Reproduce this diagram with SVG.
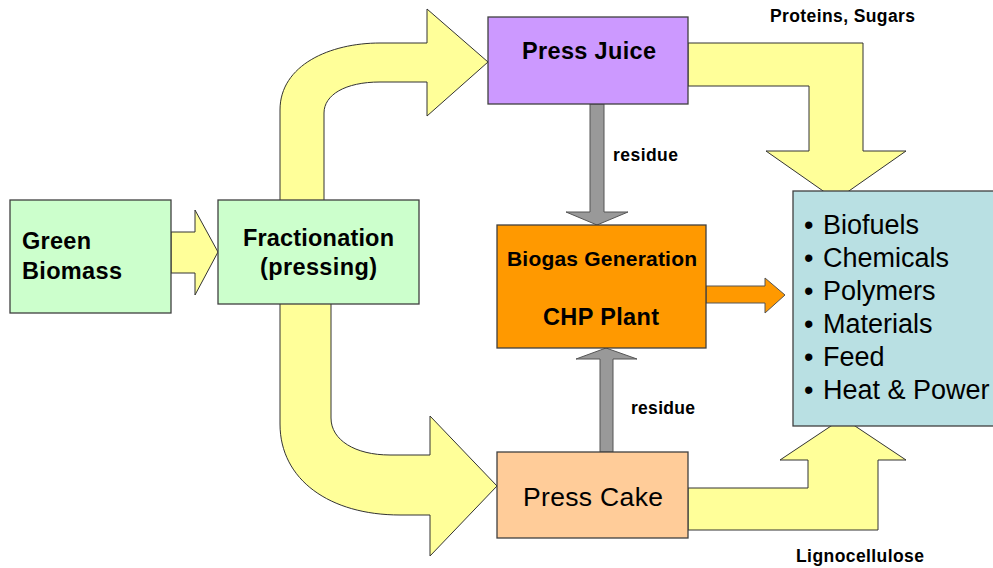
<svg xmlns="http://www.w3.org/2000/svg" width="993" height="568" viewBox="0 0 993 568">
  <style>
    .box { stroke: #404040; stroke-width: 1.3; }
    .flow { fill: #ffff99; stroke: #333333; stroke-width: 1; stroke-linejoin: miter; }
    .grey { fill: #999999; stroke: #555555; stroke-width: 1; }
    .orange { fill: #ff9900; stroke: #555555; stroke-width: 1; }
    .bold { font-family: "Liberation Sans", Arial, sans-serif; font-weight: bold; fill: #000000; }
    .reg { font-family: "Liberation Sans", Arial, sans-serif; fill: #000000; }
    .lbl { font-family: "Liberation Sans", Arial, sans-serif; font-weight: bold; font-size: 17.5px; fill: #000000; }
  </style>
  <rect width="993" height="568" fill="#ffffff"/>

  <g id="connectors">
    <!-- Green Biomass to Fractionation -->
    <path class="flow" d="M171,232 L195,232 L195,210 L218,252 L195,295 L195,273 L171,273 Z"/>
    <!-- Fractionation up to Press Juice -->
    <path class="flow" d="M280,201 L280,110 C280,65 330,43 380,43 L427,43 L427,9 L488,62 L427,116 L427,82 L380,82 C345,82 324,95 324,113 L324,201 Z"/>
    <!-- Fractionation down to Press Cake -->
    <path class="flow" d="M280,303 L280,424 C280,480 330,515 400,515 L430,515 L430,556 L497,486 L430,416 L430,455 L390,455 C355,455 331,440 331,418 L331,303 Z"/>
    <!-- Press Juice to products -->
    <path class="flow" d="M688,43 L863,43 L863,151 L906,151 L836,200 L766,151 L809,151 L809,86 L688,86 Z"/>
    <!-- Press Cake to products -->
    <path class="flow" d="M688,530 L878,530 L878,460 L906,460 L843,418 L780,460 L808,460 L808,488 L688,488 Z"/>
    <!-- residue arrows -->
    <path class="grey" d="M590,104 L604,104 L604,212 L628,212 L597,225 L566,212 L590,212 Z"/>
    <path class="grey" d="M600,452 L613,452 L613,359 L637,359 L606,348 L576,359 L600,359 Z"/>
    <!-- Biogas to products -->
    <path class="orange" d="M706,286 L765,286 L765,278 L785,295 L765,313 L765,303 L706,303 Z"/>
  </g>

  <g id="green-biomass">
    <rect class="box" x="10" y="200" width="161" height="113" fill="#ccffcc"/>
    <text class="bold" font-size="23.5" x="22" y="249" textLength="69" lengthAdjust="spacing">Green</text>
    <text class="bold" font-size="23.5" x="22" y="279" textLength="100" lengthAdjust="spacing">Biomass</text>
  </g>

  <g id="fractionation">
    <rect class="box" x="218" y="200" width="201" height="104" fill="#ccffcc"/>
    <text class="bold" font-size="23.5" x="243" y="246" textLength="151" lengthAdjust="spacing">Fractionation</text>
    <text class="bold" font-size="23.5" x="260" y="275" textLength="117" lengthAdjust="spacing">(pressing)</text>
  </g>

  <g id="press-juice">
    <rect class="box" x="488" y="17" width="200" height="87" fill="#cc99ff"/>
    <text class="bold" font-size="23.5" x="522" y="59" textLength="134" lengthAdjust="spacing">Press Juice</text>
  </g>

  <g id="biogas">
    <rect class="box" x="497" y="225" width="209" height="123" fill="#ff9900"/>
    <text class="bold" font-size="21" x="507" y="266" textLength="190" lengthAdjust="spacing">Biogas Generation</text>
    <text class="bold" font-size="23.5" x="543" y="325" textLength="116" lengthAdjust="spacing">CHP Plant</text>
  </g>

  <g id="press-cake">
    <rect class="box" x="497" y="452" width="191" height="86" fill="#ffcc99"/>
    <text class="reg" font-size="26.5" x="523" y="506" textLength="140" lengthAdjust="spacing">Press Cake</text>
  </g>

  <g id="products">
    <rect class="box" x="793" y="191" width="210" height="235" fill="#b9e0e3"/>
    <g class="reg" font-size="27">
      <text x="804" y="234">•<tspan x="823">Biofuels</tspan></text>
      <text x="804" y="267">•<tspan x="823">Chemicals</tspan></text>
      <text x="804" y="300">•<tspan x="823">Polymers</tspan></text>
      <text x="804" y="333">•<tspan x="823">Materials</tspan></text>
      <text x="804" y="366">•<tspan x="823">Feed</tspan></text>
      <text x="804" y="399">•<tspan x="823">Heat &amp; Power</tspan></text>
    </g>
  </g>

  <g id="labels">
    <text class="lbl" x="770" y="22" textLength="145" lengthAdjust="spacing">Proteins, Sugars</text>
    <text class="lbl" x="613" y="161" textLength="65" lengthAdjust="spacing">residue</text>
    <text class="lbl" x="631" y="414" textLength="64" lengthAdjust="spacing">residue</text>
    <text class="lbl" x="796" y="562" textLength="128" lengthAdjust="spacing">Lignocellulose</text>
  </g>
</svg>
